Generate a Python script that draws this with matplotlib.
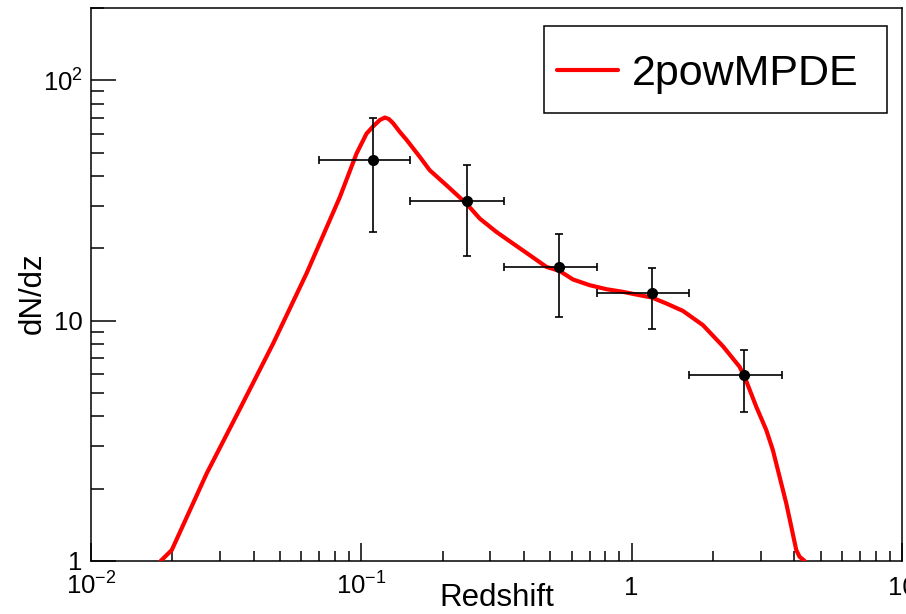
import matplotlib
matplotlib.use('Agg')
import matplotlib.pyplot as plt
import matplotlib.patches as mpatches
import numpy as np
from matplotlib.ticker import FixedLocator, FixedFormatter, LogLocator, NullFormatter

plt.rcParams['font.family'] = ['Liberation Sans', 'DejaVu Sans']
plt.rcParams['mathtext.fontset'] = 'custom'
plt.rcParams['mathtext.rm'] = 'Liberation Sans'
plt.rcParams['mathtext.it'] = 'Liberation Sans:italic'
plt.rcParams['mathtext.bf'] = 'Liberation Sans:bold'
plt.rcParams['mathtext.default'] = 'regular'

# ---- data ----
z_pts = [0.110, 0.245, 0.538, 1.186, 2.61]
dndz_pts = [46.6, 31.6, 16.7, 13.05, 5.93]
z_lo = [0.0697, 0.152, 0.337, 0.742, 1.63]
z_hi = [0.152, 0.337, 0.742, 1.63, 3.585]
dndz_lo = [23.3, 18.6, 10.4, 9.19, 4.18]
dndz_hi = [69.5, 44.6, 22.9, 16.6, 7.56]

curve_z = [0.0181, 0.0199, 0.0268, 0.0356, 0.0472, 0.0627, 0.0833, 0.0960,
           0.1045, 0.1105, 0.1171, 0.1222, 0.1265, 0.1311, 0.1388, 0.1469, 0.1646,
           0.1791, 0.2065, 0.2448, 0.2742, 0.316, 0.364, 0.4197, 0.4838,
           0.5417, 0.6067, 0.6993, 0.8063, 0.9286, 1.071, 1.186, 1.344,
           1.548, 1.835, 2.175, 2.507, 2.617, 2.891, 3.148, 3.329, 3.525,
           3.731, 3.895, 4.063, 4.178, 4.365]
curve_dndz = [1.0, 1.111, 2.316, 4.31, 8.04, 15.72, 32.7, 49.6,
              60.0, 64.3, 68.4, 70.0, 69.0, 66.3, 61.0, 56.6, 48.0,
              42.25, 36.6, 30.7, 26.6, 23.4, 20.94, 18.73, 16.74,
              16.1, 14.84, 14.05, 13.52, 13.18, 12.76, 12.49, 11.79,
              10.98, 9.58, 7.83, 6.43, 5.84, 4.38, 3.505, 2.894, 2.242,
              1.738, 1.389, 1.111, 1.042, 1.0]

x_ticks = [0.01, 0.1, 1, 10]
x_ticklabels = ['$10^{-2}$', '$10^{-1}$', '1', '10']
y_ticks = [1, 10, 100]
y_ticklabels = ['1', '10', '$10^{2}$']

legend_label = '2powMPDE'

# ---- figure ----
W, H = 906, 614
fig = plt.figure(figsize=(W / 100, H / 100), dpi=100)
ax = fig.add_axes([91 / W, 1 - 561 / H, 811 / W, 553 / H])

ax.set_xscale('log')
ax.set_yscale('log')
ax.set_xlim(0.01, 10)
ax.set_ylim(1, 200)

z = np.array(z_pts)
d = np.array(dndz_pts)
xerr = [z - np.array(z_lo), np.array(z_hi) - z]
yerr = [d - np.array(dndz_lo), np.array(dndz_hi) - d]

ax.plot(curve_z, curve_dndz, color='#ff0000', lw=3.0, label=legend_label,
        solid_joinstyle='round', solid_capstyle='round', zorder=3)
ax.errorbar(z, d, xerr=xerr, yerr=yerr, fmt='o', color='black', ms=7,
            elinewidth=1.2, capsize=3, capthick=1.2, zorder=4)

# ticks
ax.xaxis.set_major_locator(FixedLocator(x_ticks))
ax.xaxis.set_major_formatter(FixedFormatter(x_ticklabels))
ax.xaxis.set_minor_locator(LogLocator(base=10, subs=np.arange(2, 10), numticks=20))
ax.xaxis.set_minor_formatter(NullFormatter())
ax.yaxis.set_major_locator(FixedLocator(y_ticks))
ax.yaxis.set_major_formatter(FixedFormatter(y_ticklabels))
ax.yaxis.set_minor_locator(LogLocator(base=10, subs=np.arange(2, 10), numticks=20))
ax.yaxis.set_minor_formatter(NullFormatter())

ax.xaxis.set_tick_params(which='major', direction='in', length=13, width=1.1,
                         labelsize=18.5, pad=24.5, top=False)
ax.xaxis.set_tick_params(which='minor', direction='in', length=7, width=1.1, top=False)
ax.yaxis.set_tick_params(which='major', direction='in', length=18, width=1.1,
                         labelsize=18.5, pad=6, right=False)
ax.yaxis.set_tick_params(which='minor', direction='in', length=9.4, width=1.1, right=False)
for lbl in ax.get_xticklabels():
    lbl.set_va('baseline')

for s in ax.spines.values():
    s.set_linewidth(1.1)

ax.set_xlabel('Redshift', fontsize=22.5)
ax.xaxis.set_label_coords(0.5, (561 - 598) / 553)
ax.xaxis.label.set_va('center')
ax.set_ylabel('dN/dz', fontsize=22.5)
ax.yaxis.set_label_coords((33 - 91) / 811, 0.485)
ax.yaxis.label.set_va('center')

# legend box (ROOT TLegend style)
box = mpatches.Rectangle((0.5586, 0.81), 0.4229, 0.1575, transform=ax.transAxes,
                         facecolor='white', edgecolor='black', lw=1.1, zorder=5)
ax.add_patch(box)
leg = ax.legend(loc='center left', bbox_to_anchor=(0.5746, 0.8806),
                fontsize=31, handlelength=1.415, handletextpad=0.325,
                borderpad=0, borderaxespad=0, frameon=False)
leg.set_zorder(6)

fig.savefig('out.png', dpi=100)
